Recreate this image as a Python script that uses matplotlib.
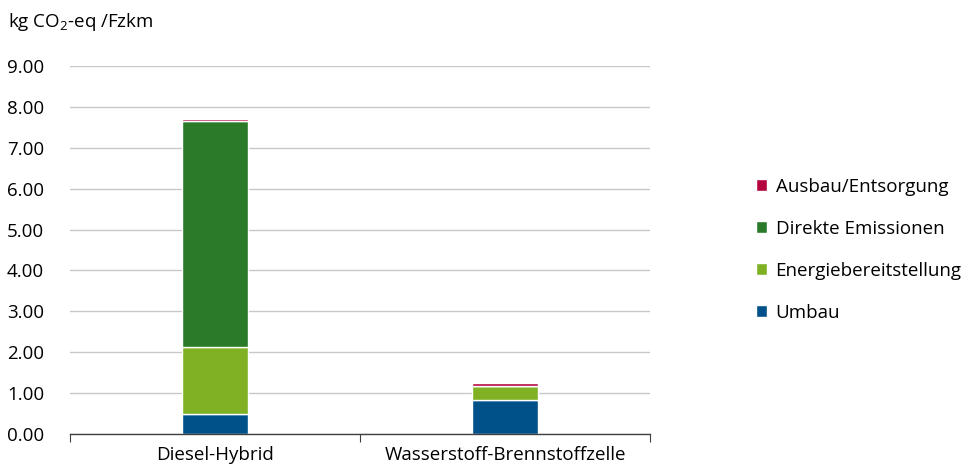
import matplotlib
matplotlib.use("Agg")
import matplotlib.pyplot as plt
import numpy as np

categories = ["Diesel-Hybrid", "Wasserstoff-Brennstoffzelle"]
series_names = ["Umbau", "Energiebereitstellung", "Direkte Emissionen", "Ausbau/Entsorgung"]
umbau = [0.50, 0.83]
energie = [1.63, 0.35]
direkt = [5.52, 0.00]
ausbau = [0.05, 0.07]
yticks = [0, 1, 2, 3, 4, 5, 6, 7, 8, 9]

colors = ["#00508A", "#80B125", "#2A7A2A", "#B5053F"]

plt.rcParams['font.family'] = ['Open Sans', 'DejaVu Sans']
plt.rcParams['mathtext.fontset'] = 'custom'
plt.rcParams['mathtext.rm'] = 'Open Sans'
plt.rcParams['mathtext.it'] = 'Open Sans:italic'
plt.rcParams['mathtext.bf'] = 'Open Sans:bold'

FS = 13.5

fig = plt.figure(figsize=(9.72, 4.75), dpi=100)
ax = fig.add_axes([70/972, 1-434/475, 580/972, 368/475])

x = np.arange(len(categories)) + 0.5
bottom = np.zeros(len(categories))
handles = []
for name, vals, c in zip(series_names, [umbau, energie, direkt, ausbau], colors):
    v = np.array(vals)
    h = ax.bar(x, v, bottom=bottom, width=0.23, color=c, edgecolor="white", linewidth=1.0, label=name, zorder=3)
    handles.append(h)
    bottom += v

ax.set_xlim(0, 2)
ax.set_ylim(0, 9)
ax.set_yticks(yticks)
ax.set_yticklabels([f"{t:.2f}" for t in yticks], fontsize=FS)
for lbl in ax.get_yticklabels():
    lbl.set_horizontalalignment("left")
ax.yaxis.grid(True, color="#C8C8C8", linewidth=1.0, zorder=0)
ax.tick_params(axis="y", length=0, pad=63/100*72)
ax.set_xticks([0, 1, 2])
ax.set_xticklabels([])
ax.set_xticks(x, minor=True)
ax.set_xticklabels(categories, minor=True, fontsize=FS)
ax.tick_params(axis="x", which="major", length=6, color="#404040", direction="out")
ax.tick_params(axis="x", which="minor", length=0, pad=9)
for s in ["left", "right", "top"]:
    ax.spines[s].set_visible(False)
ax.spines["bottom"].set_color("#404040")
ax.spines["bottom"].set_linewidth(1.0)
ax.spines["bottom"].set_zorder(4)

fig.text(8/972, 1-22/475, r"kg CO$_\mathregular{2}$-eq /Fzkm", fontsize=FS, va="center", ha="left")

leg = fig.legend(handles[::-1], series_names[::-1], loc="center left",
                 bbox_to_anchor=(739/972, 1-250/475), frameon=False, fontsize=FS,
                 handlelength=0.6, handleheight=0.6, handletextpad=0.45, labelspacing=1.28)

fig.savefig("out.png", dpi=100)
